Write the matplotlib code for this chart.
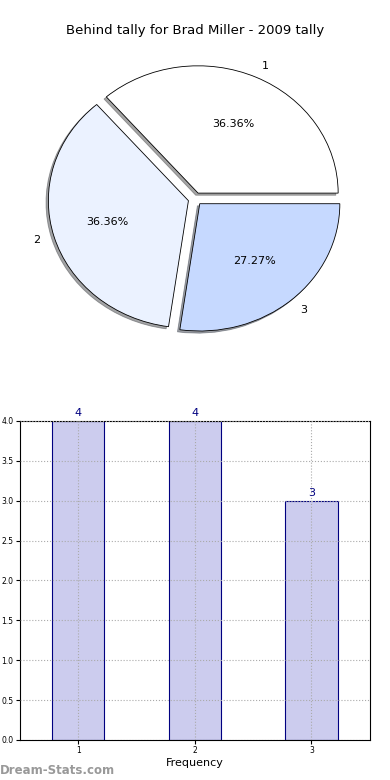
import matplotlib
matplotlib.use('Agg')
import matplotlib.pyplot as plt

# data
categories = ['1', '2', '3']
counts = [4, 4, 3]
pie_colors = ['#ffffff', '#ebf2ff', '#c6d9ff']
title = 'Behind tally for Brad Miller - 2009 tally'

fig = plt.figure(figsize=(3.9, 7.8), dpi=100)
fig.patch.set_facecolor('white')

# pie
ax1 = fig.add_axes([0.0514, 0.541, 0.898, 0.408])
wedges, texts, autotexts = ax1.pie(counts, labels=categories, colors=pie_colors,
                                   explode=[0.05] * len(counts), autopct='%.2f%%',
                                   shadow={'ox': -0.012, 'oy': -0.012, 'shade': 0.7},
                                   startangle=0,
                                   wedgeprops=dict(edgecolor='black', linewidth=0.6),
                                   textprops=dict(fontsize=8))
ax1.set_aspect('auto')
ax1.set_xlim(-1.25, 1.25)
ax1.set_ylim(-1.25, 1.25)
ax1.axis('off')
fig.text(0.5, 0.961, title, ha='center', va='center', fontsize=9.5)

# bars
ax2 = fig.add_axes([0.051, 0.0513, 0.897, 0.409])
x = [1, 2, 3]
ax2.bar(x, counts, width=0.45, color='#ccccee', edgecolor='#000080', linewidth=0.8, zorder=1)
for xi, c in zip(x, counts):
    ax2.text(xi, c + 0.04, str(c), ha='center', va='bottom', fontsize=8, color='#000080')
ax2.set_xlim(0.5, 3.5)
ax2.set_ylim(0, 4)
ax2.set_xticks(x)
ax2.set_xticklabels(categories)
ax2.set_yticks([i * 0.5 for i in range(9)])
ax2.tick_params(labelsize=5.5, length=3, pad=1.5)
ax2.grid(True, linestyle=':', color='#aaaaaa', linewidth=0.8, zorder=3)
ax2.set_axisbelow(False)
ax2.set_xlabel('Frequency', fontsize=8, labelpad=2)

fig.text(0.0, 0.012, 'Dream-Stats.com', fontsize=8.5, color='#999999',
         fontweight='bold', ha='left', va='center')

fig.savefig('out.png', dpi=100)
